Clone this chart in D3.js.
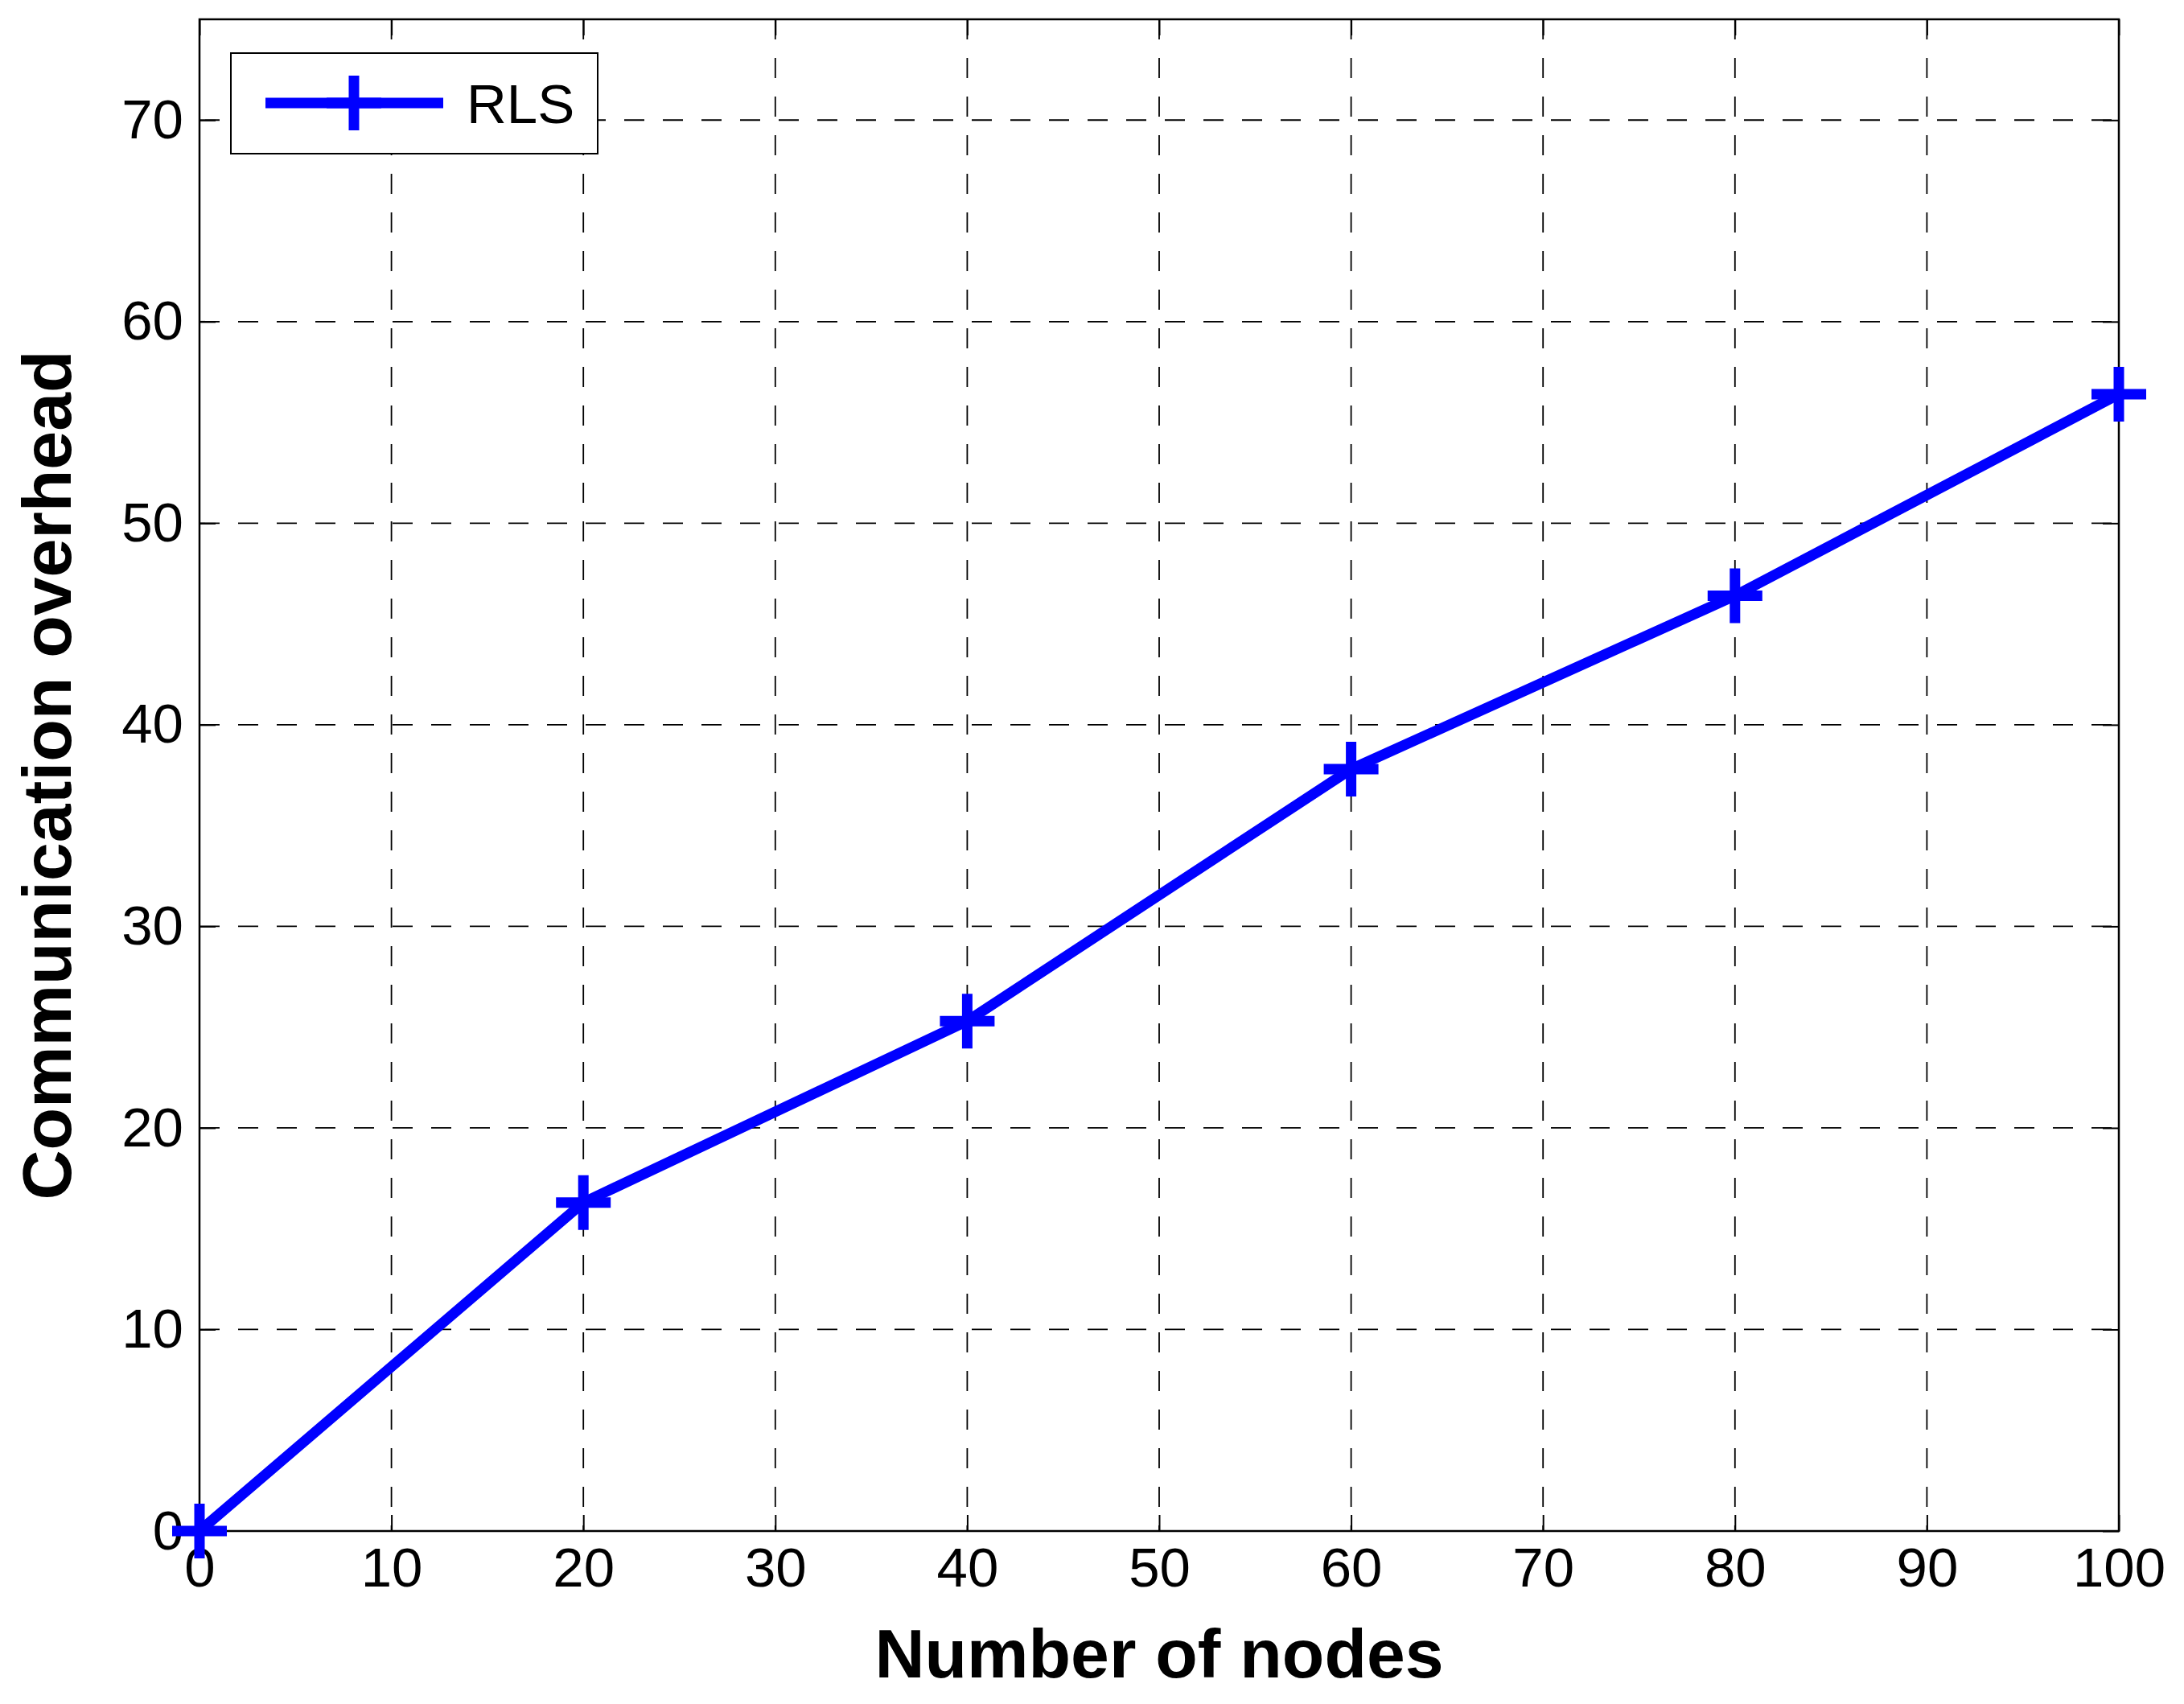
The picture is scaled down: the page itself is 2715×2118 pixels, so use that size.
<!DOCTYPE html>
<html><head><meta charset="utf-8">
<script src="https://cdn.jsdelivr.net/npm/d3@7"></script>
<style>body{margin:0;background:#fff}</style>
</head><body>
<script>
var nodes = [0, 20, 40, 60, 80, 100];
var overhead = [0, 16.3, 25.3, 37.8, 46.4, 56.4];
var xTicks = [0, 10, 20, 30, 40, 50, 60, 70, 80, 90, 100];
var yTicks = [0, 10, 20, 30, 40, 50, 60, 70];
var seriesName = "RLS";

var W = 2715, H = 2118;
var m = {left: 248, right: 2634, top: 24, bottom: 1903};
var svg = d3.select("body").append("svg").attr("width", W).attr("height", H);
var x = d3.scaleLinear().domain([0, 100]).range([m.left, m.right]);
var y = d3.scaleLinear().domain([0, 75]).range([m.bottom, m.top]);
var font = "Arial, 'Liberation Sans', sans-serif";

// grid
svg.append("g").selectAll("line").data(xTicks.slice(1, -1)).enter().append("line")
    .attr("x1", d => x(d)).attr("x2", d => x(d)).attr("y1", m.top).attr("y2", m.bottom)
    .attr("stroke", "#000").attr("stroke-width", 1.8).attr("stroke-dasharray", "25,23");
svg.append("g").selectAll("line").data(yTicks.slice(1)).enter().append("line")
    .attr("x1", m.left).attr("x2", m.right).attr("y1", d => y(d)).attr("y2", d => y(d))
    .attr("stroke", "#000").attr("stroke-width", 1.8).attr("stroke-dasharray", "25,23");

// axes
var tl = 20;
svg.append("g").attr("transform", "translate(0," + m.bottom + ")")
    .call(d3.axisBottom(x).tickValues(xTicks).tickSize(-tl).tickPadding(20))
    .call(g => g.select(".domain").remove());
svg.append("g").attr("transform", "translate(0," + m.top + ")")
    .call(d3.axisTop(x).tickValues(xTicks).tickSize(-tl).tickFormat(""))
    .call(g => g.select(".domain").remove());
svg.append("g").attr("transform", "translate(" + m.left + ",0)")
    .call(d3.axisLeft(y).tickValues(yTicks).tickSize(-tl).tickPadding(20))
    .call(g => g.select(".domain").remove());
svg.append("g").attr("transform", "translate(" + m.right + ",0)")
    .call(d3.axisRight(y).tickValues(yTicks).tickSize(-tl).tickFormat(""))
    .call(g => g.select(".domain").remove());
svg.selectAll(".tick line").attr("stroke", "#000").attr("stroke-width", 2);
svg.selectAll(".tick text").attr("font-family", font).attr("font-size", 69).attr("fill", "#000");
svg.append("rect").attr("x", m.left).attr("y", m.top)
    .attr("width", m.right - m.left).attr("height", m.bottom - m.top)
    .attr("fill", "none").attr("stroke", "#000").attr("stroke-width", 2.5);

// series
var pts = nodes.map((d, i) => [d, overhead[i]]);
svg.append("path").datum(pts)
    .attr("d", d3.line().x(d => x(d[0])).y(d => y(d[1])))
    .attr("fill", "none").attr("stroke", "#0000ff").attr("stroke-width", 13);
function cross(g, cx, cy) {
    g.append("path").attr("d", "M" + (cx - 34) + "," + cy + "H" + (cx + 34) + "M" + cx + "," + (cy - 34) + "V" + (cy + 34))
        .attr("stroke", "#0000ff").attr("stroke-width", 13).attr("fill", "none");
}
var mk = svg.append("g");
pts.forEach(d => cross(mk, x(d[0]), y(d[1])));

// legend
svg.append("rect").attr("x", 287).attr("y", 66).attr("width", 456).attr("height", 125)
    .attr("fill", "#fff").attr("stroke", "#000").attr("stroke-width", 2);
svg.append("line").attr("x1", 330).attr("x2", 551).attr("y1", 128).attr("y2", 128)
    .attr("stroke", "#0000ff").attr("stroke-width", 13);
cross(svg, 440, 128);
svg.append("text").attr("x", 580).attr("y", 153).text(seriesName)
    .attr("font-family", font).attr("font-size", 69);

// titles
svg.append("text").attr("x", (m.left + m.right) / 2).attr("y", 2085).attr("text-anchor", "middle")
    .attr("font-family", font).attr("font-weight", "bold").attr("font-size", 86)
    .text("Number of nodes");
svg.append("text").attr("transform", "translate(88," + (m.top + m.bottom) / 2 + ") rotate(-90)")
    .attr("text-anchor", "middle")
    .attr("font-family", font).attr("font-weight", "bold").attr("font-size", 86)
    .text("Communication overhead");
</script>
</body></html>
